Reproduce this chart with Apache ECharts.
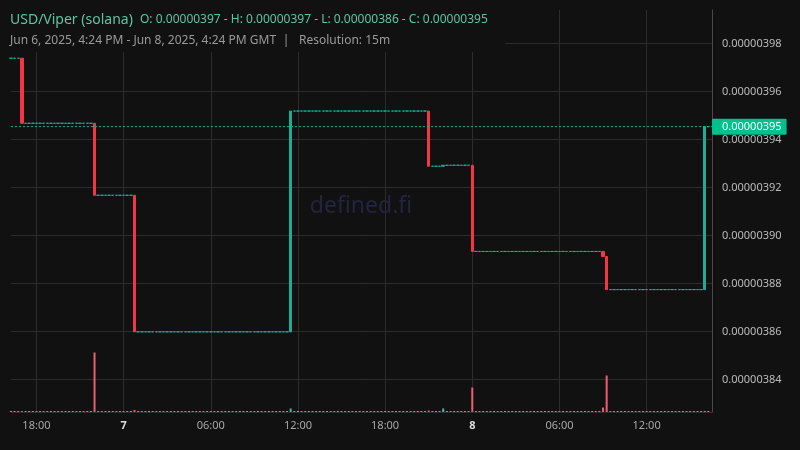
<!DOCTYPE html>
<html><head><meta charset="utf-8">
<script src="https://cdn.jsdelivr.net/npm/echarts@6/dist/echarts.min.js"></script>
<style>html,body{margin:0;padding:0;background:#111111;}#c{width:800px;height:450px;}</style>
</head><body><div id="c"></div>
<script>
// ---- data ----
const START_UTC = Date.UTC(2025, 5, 6, 16, 15);   // first 15m bar
const BAR_MINUTES = 15;
const BAR_COUNT = 194;                              // last slot left empty
const startPrice = 3.9738e-6;
const tradeTimes  = ['06-06 17:00','06-06 22:00','06-07 00:45','06-07 11:30','06-07 21:00','06-07 22:00','06-08 00:00','06-08 09:00','06-08 09:15','06-08 16:00'];
const tradeClose  = [3.9467e-6, 3.9167e-6, 3.8598e-6, 3.9518e-6, 3.9288e-6, 3.9292e-6, 3.8933e-6, 3.8912e-6, 3.8774e-6, 3.9453e-6];
const tradeVolume = [0.8, 59.5, 2, 3.5, 1.5, 3.5, 24.5, 4.5, 36.5, 0.8];
const idleVolume = 0.3;
const titleText = 'USD/Viper (solana)';
const ohlcText = 'O: 0.00000397 - H: 0.00000397 - L: 0.00000386 - C: 0.00000395';
const rangeText = 'Jun 6, 2025, 4:24 PM - Jun 8, 2025, 4:24 PM GMT';
const resText = 'Resolution: 15m';

// ---- build ----
const pad = n => String(n).padStart(2, '0');
const categories = [];
for (let i = 0; i < BAR_COUNT; i++) {
  const d = new Date(START_UTC + i * BAR_MINUTES * 60000);
  categories.push(pad(d.getUTCMonth() + 1) + '-' + pad(d.getUTCDate()) + ' ' + pad(d.getUTCHours()) + ':' + pad(d.getUTCMinutes()));
}
const UP = '#22ab94', DOWN = '#f23645', UPVOL = '#3fbf9c', DOWNVOL = '#ec5f70';
const candles = [], volumes = [];
let price = startPrice;
for (let i = 0; i < BAR_COUNT; i++) {
  if (i === BAR_COUNT - 1) { candles.push('-'); volumes.push('-'); continue; }
  const k = tradeTimes.indexOf(categories[i]);
  if (k >= 0) {
    const o = price, c = tradeClose[k];
    candles.push([o, c, Math.min(o, c), Math.max(o, c)]);
    volumes.push({ value: tradeVolume[k], itemStyle: { color: c >= o ? UPVOL : DOWNVOL } });
    price = c;
  } else {
    candles.push([price, price, price, price]);
    volumes.push({ value: idleVolume, itemStyle: { color: UPVOL } });
  }
}
const lastClose = price;
const priceLine = [[categories[0], lastClose], [categories[BAR_COUNT - 1], lastClose]];

const isMajor = (idx, val) => {
  const hm = val.split(' ')[1];
  const h = +hm.split(':')[0], m = +hm.split(':')[1];
  return m === 0 && h % 6 === 0;
};
const fmtX = (val) => {
  const parts = val.split(' ');
  const day = +parts[0].split('-')[1];
  const hm = parts[1];
  if (hm === '00:00') return '{d|' + day + '}';
  return hm;
};

const FONT = '"Noto Sans", sans-serif';
const chart = echarts.init(document.getElementById('c'), null, { renderer: 'canvas' });
chart.setOption({
  backgroundColor: '#111111',
  animation: false,
  textStyle: { fontFamily: FONT },
  grid: [
    { left: 11, right: 88, top: 10, bottom: 38 },
    { left: 11, right: 88, top: 312, bottom: 38 }
  ],
  xAxis: [
    {
      type: 'category', gridIndex: 0, data: categories, boundaryGap: false,
      axisLine: { show: false }, axisTick: { show: false },
      axisLabel: {
        interval: isMajor, formatter: fmtX, color: '#a8a8a8', fontSize: 11, margin: 8,
        fontFamily: FONT,
        rich: { d: { fontWeight: 'bold', color: '#dddddd', fontSize: 11, fontFamily: FONT } }
      },
      splitLine: { show: true, interval: isMajor, lineStyle: { color: '#2c2c2c', width: 1 } }
    },
    {
      type: 'category', gridIndex: 1, data: categories, boundaryGap: false, show: false
    }
  ],
  yAxis: [
    {
      type: 'value', gridIndex: 0, position: 'right', scale: true,
      min: 3.8264e-6, max: 3.9939e-6, minInterval: 2e-8, maxInterval: 2e-8,
      axisLine: { show: true, lineStyle: { color: '#4a4a4a' } },
      axisTick: { show: false },
      axisLabel: {
        color: '#bbbbbb', fontSize: 11, margin: 10, fontFamily: FONT,
        showMinLabel: false, showMaxLabel: false,
        formatter: v => v.toFixed(8)
      },
      splitLine: { show: true, showMaxLine: false, lineStyle: { color: '#2c2c2c', width: 1 } }
    },
    { type: 'value', gridIndex: 1, min: 0, max: 100, show: false }
  ],
  graphic: [
    {
      type: 'text', z: 1, silent: true,
      style: { text: 'defined.fi', x: 361, y: 206, align: 'center', verticalAlign: 'middle',
        fontSize: 23, fontFamily: FONT, fill: '#25233f' }
    },
    { type: 'rect', z: 100, silent: true, shape: { x: 0, y: 0, width: 505, height: 52 }, style: { fill: '#111111' } },
    { type: 'text', z: 101, silent: true,
      style: { text: titleText, x: 10, y: 20, verticalAlign: 'middle', fontSize: 14, fontFamily: FONT, fill: '#5cc6a2' } },
    { type: 'text', z: 101, silent: true,
      style: { text: ohlcText, x: 140, y: 20, verticalAlign: 'middle', fontSize: 12, fontFamily: FONT, fill: '#5cc6a2' } },
    { type: 'text', z: 101, silent: true,
      style: { text: rangeText, x: 10, y: 41, verticalAlign: 'middle', fontSize: 12, fontFamily: FONT, fill: '#9a9a9a' } },
    { type: 'text', z: 101, silent: true,
      style: { text: '|', x: 286, y: 41, align: 'center', verticalAlign: 'middle', fontSize: 12, fontFamily: FONT, fill: '#9a9a9a' } },
    { type: 'text', z: 101, silent: true,
      style: { text: resText, x: 299, y: 41, verticalAlign: 'middle', fontSize: 12, fontFamily: FONT, fill: '#9a9a9a' } }
  ],
  series: [
    {
      type: 'candlestick', xAxisIndex: 0, yAxisIndex: 0, data: candles, barWidth: 3, z: 3,
      itemStyle: {
        color: UP, color0: DOWN, borderColor: UP, borderColor0: DOWN,
        borderColorDoji: '#26a69a', borderWidth: 1
      }
    },
    {
      type: 'line', xAxisIndex: 0, yAxisIndex: 0, data: priceLine, z: 4,
      symbol: 'none', silent: true, clip: false,
      lineStyle: { color: '#00c08b', type: [2, 2], width: 1 },
      endLabel: {
        show: true, distance: 0,
        formatter: p => Number(p.value[1]).toFixed(8),
        backgroundColor: '#00c08b', color: '#ffffff', fontSize: 11, fontFamily: FONT,
        padding: [3, 5, 2, 10], borderRadius: 1
      }
    },
    {
      type: 'bar', xAxisIndex: 1, yAxisIndex: 1, data: volumes, barWidth: 2, barMinHeight: 1, z: 2
    }
  ]
});
</script></body></html>
